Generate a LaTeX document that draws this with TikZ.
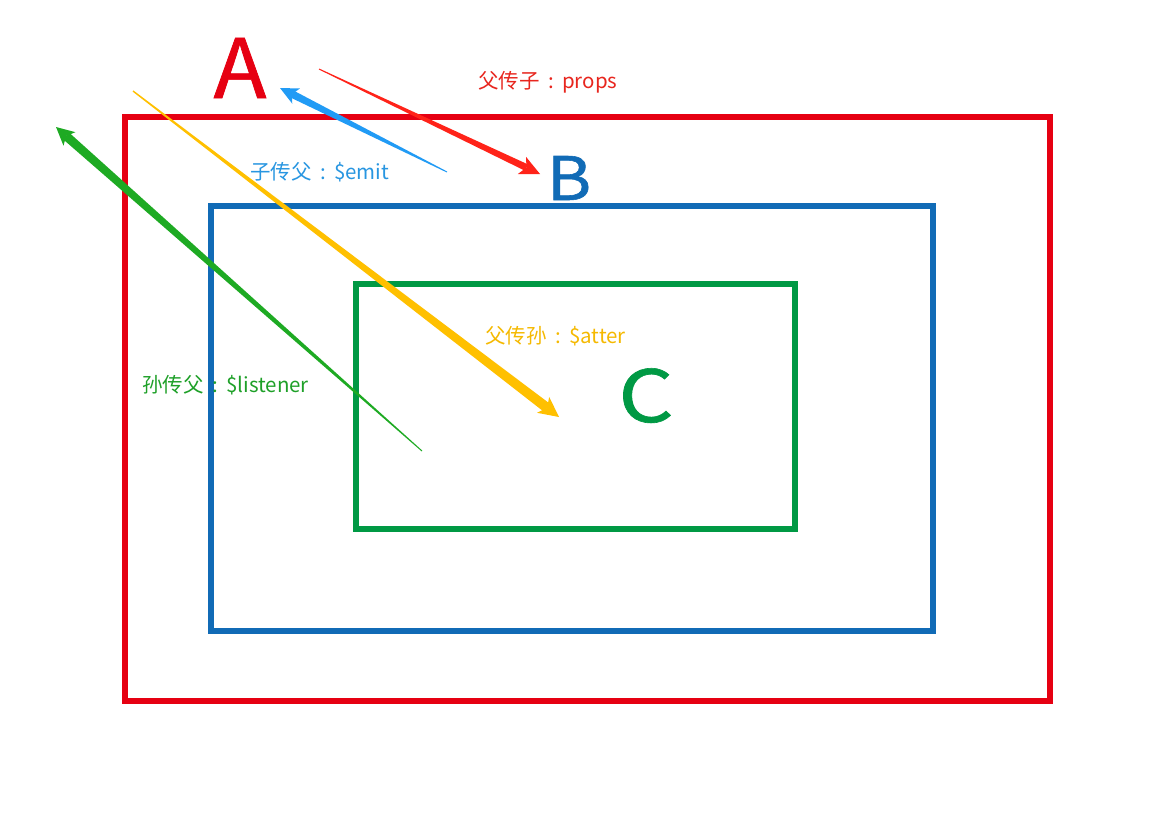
\documentclass[tikz,border=0pt]{standalone}
\usepackage{fontspec}
\newfontfamily\cjk{Noto Sans CJK SC}
\newfontfamily\cjkb[FakeBold=0.9]{Noto Sans CJK SC}
\usetikzlibrary{calc}
\definecolor{frameRed}{RGB}{230,0,18}
\definecolor{frameBlue}{RGB}{17,107,182}
\definecolor{frameGreen}{RGB}{0,153,68}
\definecolor{arrRed}{RGB}{255,35,25}
\definecolor{arrBlue}{RGB}{33,155,245}
\definecolor{arrYellow}{RGB}{255,192,0}
\definecolor{arrGreen}{RGB}{30,170,35}
\definecolor{txtRed}{RGB}{232,38,30}
\definecolor{txtBlue}{RGB}{40,150,225}
\definecolor{txtYellow}{RGB}{245,185,0}
\definecolor{txtGreen}{RGB}{30,160,40}
\newcommand{\fwcolon}{\makebox[1.1em][c]{:}}
\newcommand{\taperarrow}[7]{%
  % #1 tail, #2 tip, #3 colour, #4 tail half width, #5 shaft end half width, #6 head length, #7 head half width
  \coordinate (tb) at ($(#2)!#6!(#1)$);
  \coordinate (tn) at ($(#2)!0.75*#6!(#1)$);
  \fill[#3] ($(#1)!#4!90:(#2)$) -- ($(tn)!#5!-90:(#1)$) -- ($(tn)!#5!90:(#1)$) -- ($(#1)!#4!-90:(#2)$) -- cycle;
  \fill[#3] ($(tb)!#7!90:(#2)$) -- (#2) -- ($(tb)!#7!-90:(#2)$) -- (tn) -- cycle;
}
\begin{document}
\begin{tikzpicture}[x=1pt,y=-1pt,
  frame/.style={draw=#1,line width=5.5pt,fill=none,inner sep=0pt},
  letter/.style={font=\cjkb\fontsize{#1}{#1}\selectfont,inner sep=0pt,anchor=base,transform shape},
  lbl/.style={font=\cjk\fontsize{20.5}{21}\selectfont,inner sep=0pt,anchor=west}]
\useasboundingbox[fill=white] (0,0) rectangle (1149,830);

% frames
\draw[frame=frameRed] (125,117) rectangle (1050,701);
\draw[frame=frameBlue] (211,206) rectangle (933,631);
\draw[frame=frameGreen] (356,284) rectangle (795,529);

% letters
\node[letter=82,text=frameRed,xscale=1.06] (A) at (240,98) {A};
\node[letter=60,text=frameBlue,xscale=1.13] (B) at (569,200) {B};
\node[letter=72,text=frameGreen,xscale=1.2] (C) at (646,422) {C};

% labels
\node[lbl,text=txtRed] (lprops) at (478,82) {父传子\fwcolon props};
\node[lbl,text=txtBlue] (lemit) at (250,172) {子传父\fwcolon\$emit};
\node[lbl,text=txtYellow] (latter) at (485,336) {父传孙\fwcolon\$atter};
\node[lbl,text=txtGreen] (llist) at (142,385) {孙传父\fwcolon\$listener};

% arrow end points
\coordinate (rT) at (319,69);  \coordinate (rH) at (540,174);
\coordinate (bT) at (447,172); \coordinate (bH) at (280,88);
\coordinate (yT) at (133,91);  \coordinate (yH) at (559,417);
\coordinate (gT) at (422,451); \coordinate (gH) at (56,127);

\taperarrow{rT}{rH}{arrRed}{0.5pt}{3.5pt}{20pt}{9.5pt}
\taperarrow{bT}{bH}{arrBlue}{0.5pt}{3.8pt}{18pt}{8.5pt}
\taperarrow{yT}{yH}{arrYellow}{0.7pt}{5pt}{20pt}{10pt}
\taperarrow{gT}{gH}{arrGreen}{0.5pt}{4.5pt}{18pt}{9pt}
\end{tikzpicture}
\end{document}
